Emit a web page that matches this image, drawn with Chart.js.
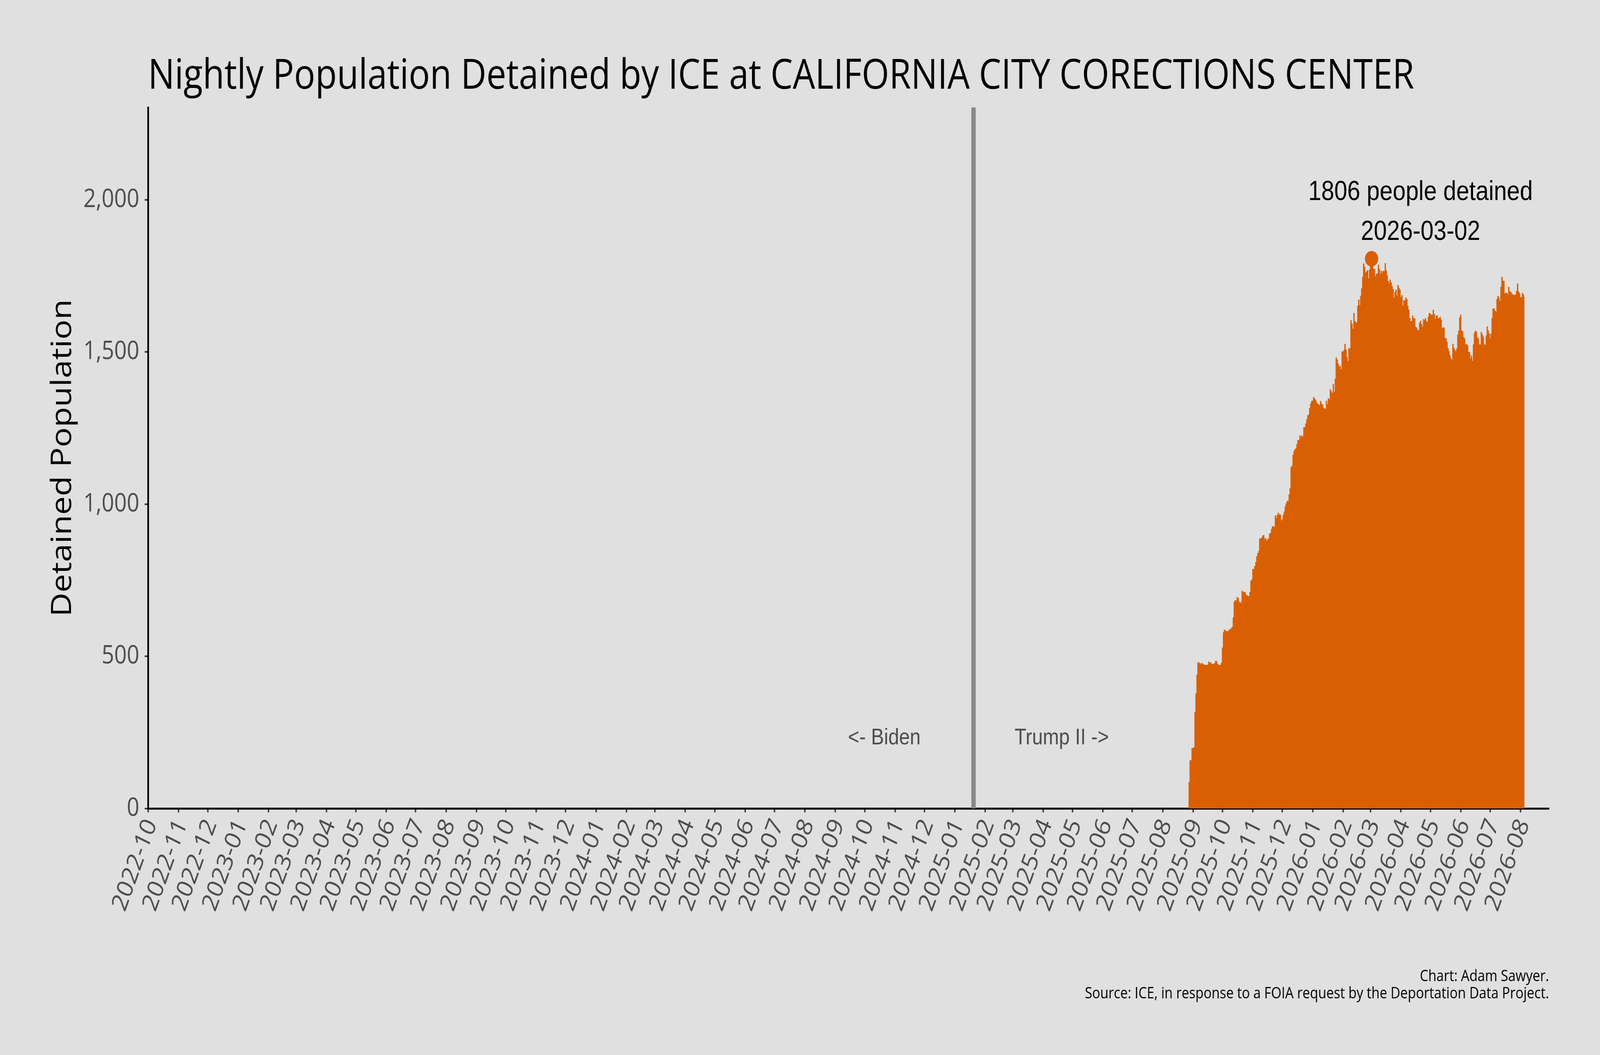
<!DOCTYPE html>
<html>
<head>
<meta charset="utf-8">
<title>Nightly Population Detained by ICE</title>
<script src="https://cdn.jsdelivr.net/npm/chart.js@4.4.1/dist/chart.umd.min.js"></script>
<style>
  html, body { margin: 0; padding: 0; background: #e0e0e0; overflow: hidden; }
  #chart { display: block; }
</style>
</head>
<body>
<canvas id="chart" width="4800" height="2700" style="width: 100vw; height: 100vh;"></canvas>
<script>
const titleText = 'Nightly Population Detained by ICE at CALIFORNIA CITY CORECTIONS CENTER';
const yTitle = 'Detained Population';
const creditLines = [
    'Chart: Adam Sawyer.',
    'Source: ICE, in response to a FOIA request by the Deportation Data Project.'
];

// x axis runs from 2022-10-01 to the end of Aug 2026
const axisStart = '2022-10-01';
const axisEnd = '2026-08-30';
const monthLabels = [
    '2022-10', '2022-11', '2022-12',
    '2023-01', '2023-02', '2023-03', '2023-04', '2023-05', '2023-06',
    '2023-07', '2023-08', '2023-09', '2023-10', '2023-11', '2023-12',
    '2024-01', '2024-02', '2024-03', '2024-04', '2024-05', '2024-06',
    '2024-07', '2024-08', '2024-09', '2024-10', '2024-11', '2024-12',
    '2025-01', '2025-02', '2025-03', '2025-04', '2025-05', '2025-06',
    '2025-07', '2025-08', '2025-09', '2025-10', '2025-11', '2025-12',
    '2026-01', '2026-02', '2026-03', '2026-04', '2026-05', '2026-06',
    '2026-07', '2026-08'
];
const yTicks = [0, 500, 1000, 1500, 2000];
const yMax = 2303;

// one value per night, starting at startDate
const startDate = '2025-08-27';
const population = [
    5, 86, 158, 158, 198, 198, 201, 316, 377, 439,
    479, 479, 476, 476, 477, 474, 472, 471, 471, 471,
    471, 482, 479, 479, 474, 475, 474, 477, 484, 483,
    475, 471, 471, 471, 479, 528, 578, 587, 584, 582,
    582, 582, 588, 588, 592, 596, 627, 679, 684, 683,
    694, 691, 678, 678, 674, 715, 710, 711, 711, 702,
    700, 697, 697, 711, 748, 752, 786, 786, 796, 809,
    828, 838, 845, 886, 886, 890, 895, 898, 884, 888,
    879, 884, 886, 902, 905, 918, 927, 925, 925, 962,
    954, 964, 971, 965, 965, 945, 949, 964, 975, 992,
    1002, 1010, 1010, 1031, 1052, 1121, 1125, 1162, 1174, 1180,
    1182, 1197, 1210, 1210, 1225, 1219, 1225, 1221, 1252, 1252,
    1264, 1278, 1291, 1294, 1315, 1330, 1338, 1340, 1351, 1345,
    1343, 1334, 1329, 1327, 1325, 1338, 1330, 1327, 1316, 1313,
    1313, 1339, 1328, 1347, 1343,
    1377, 1370, 1364, 1394, 1368, 1411, 1481, 1474, 1461, 1451,
    1454, 1442, 1501, 1501, 1506, 1526, 1507, 1483, 1469, 1512,
    1511, 1604, 1592, 1575, 1627, 1601, 1597, 1596, 1651, 1671,
    1653, 1684, 1708, 1746, 1790, 1779, 1760, 1764, 1768, 1740,
    1770, 1785, 1806, 1790, 1772, 1772, 1747, 1757, 1756, 1786,
    1772, 1756, 1766, 1760, 1766, 1765, 1791, 1768, 1751, 1732,
    1725, 1737, 1728, 1716, 1706, 1678, 1696, 1704, 1684, 1719,
    1710, 1704, 1680, 1686, 1651, 1669, 1669, 1678, 1673, 1651,
    1638, 1611, 1600, 1601, 1619, 1610, 1610, 1582, 1579, 1572,
    1570, 1595, 1602, 1591, 1582, 1607, 1605, 1610, 1601, 1597,
    1616, 1627, 1625, 1621, 1622, 1638, 1624, 1608, 1619, 1619,
    1610, 1610, 1615, 1606, 1576, 1580, 1579, 1544, 1545, 1532,
    1512, 1502, 1488, 1478, 1474, 1526, 1513, 1506, 1501, 1511,
    1556, 1569, 1613, 1622, 1570, 1567, 1548, 1543, 1524, 1525,
    1521, 1500, 1498, 1479, 1488, 1470, 1524, 1561, 1569, 1566,
    1548, 1543, 1524, 1524, 1565, 1556, 1550, 1525, 1522, 1553,
    1583, 1570, 1560, 1544, 1560, 1611, 1642, 1642, 1635, 1629,
    1673, 1683, 1678, 1667, 1714, 1746, 1733, 1733, 1692, 1693,
    1694, 1687, 1713, 1698, 1697, 1692, 1688, 1686, 1687, 1688,
    1700, 1724, 1698, 1692, 1679, 1679, 1693, 1687, 1679
];

const peakDate = '2026-03-02';
const peakValue = 1806;
const inaugurationDate = '2025-01-20';
const eraLabels = ['<- Biden', 'Trump II ->'];

const ORANGE = '#d95f02';
const SANS = "'Open Sans', sans-serif";
const ARIAL = "'Liberation Sans', Arial, sans-serif";

// days since axisStart
function dayNumber(s) {
    const p = s.split('-').map(Number);
    const a = axisStart.split('-').map(Number);
    return Math.round((Date.UTC(p[0], p[1] - 1, p[2]) - Date.UTC(a[0], a[1] - 1, a[2])) / 86400000);
}

const firstDay = dayNumber(startDate);
const nightly = population.map((v, i) => ({ x: firstDay + i, y: v }));
const peakDay = dayNumber(peakDate);
const inaugDay = dayNumber(inaugurationDate);

const labelByDay = {};
monthLabels.forEach(m => { labelByDay[dayNumber(m + '-01')] = m; });

const decorations = {
    id: 'decorations',
    beforeDatasetsDraw(chart) {
        const ctx = chart.ctx;
        const x = chart.scales.x.getPixelForValue(inaugDay);
        ctx.save();
        ctx.strokeStyle = '#888888';
        ctx.lineWidth = 13;
        ctx.beginPath();
        ctx.moveTo(x, chart.chartArea.top);
        ctx.lineTo(x, chart.chartArea.bottom);
        ctx.stroke();

        // era labels either side of the inauguration line
        const ly = chart.scales.y.getPixelForValue(210);
        ctx.fillStyle = '#4d4d4d';
        ctx.font = '58px ' + ARIAL;
        ctx.textAlign = 'center';
        ctx.textBaseline = 'alphabetic';
        ctx.fillText(eraLabels[0], chart.scales.x.getPixelForValue(inaugDay - 91), ly);
        ctx.fillText(eraLabels[1], chart.scales.x.getPixelForValue(inaugDay + 90), ly);
        ctx.restore();
    },
    afterDraw(chart) {
        const ctx = chart.ctx;
        const area = chart.chartArea;
        ctx.save();

        // peak annotation
        const px = chart.scales.x.getPixelForValue(peakDay);
        const py = chart.scales.y.getPixelForValue(peakValue);
        ctx.fillStyle = '#000000';
        ctx.font = '70px ' + ARIAL;
        ctx.textAlign = 'center';
        ctx.textBaseline = 'alphabetic';
        ctx.fillText(peakValue + ' people detained', px + 147, py - 150);
        ctx.fillText(peakDate, px + 147, py - 48);

        // title
        ctx.textAlign = 'left';
        ctx.font = '106px ' + SANS;
        ctx.fillText(titleText, area.left, 227);

        // credits
        ctx.textAlign = 'right';
        ctx.font = '40px ' + SANS;
        ctx.fillText(creditLines[0], area.right, 2511);
        ctx.fillText(creditLines[1], area.right, 2555);
        ctx.restore();
    }
};

Chart.defaults.font.family = SANS;

new Chart(document.getElementById('chart'), {
    type: 'line',
    data: {
        datasets: [
            {
                label: 'Detained Population',
                data: nightly,
                stepped: 'middle',
                fill: 'origin',
                backgroundColor: ORANGE,
                borderColor: ORANGE,
                borderWidth: 1,
                pointRadius: 0
            },
            {
                label: 'Peak',
                data: [{ x: peakDay, y: peakValue }],
                showLine: false,
                pointRadius: 20,
                pointHoverRadius: 20,
                pointBackgroundColor: ORANGE,
                pointBorderWidth: 0,
                clip: false
            }
        ]
    },
    options: {
        responsive: false,
        animation: false,
        devicePixelRatio: 1,
        layout: {
            padding: { top: 275, right: 153, bottom: 0, left: 0 }
        },
        scales: {
            x: {
                type: 'linear',
                min: 0,
                max: dayNumber(axisEnd),
                afterFit: (s) => { s.height = 631; },
                afterBuildTicks: (s) => {
                    s.ticks = monthLabels.map(m => ({ value: dayNumber(m + '-01') }));
                },
                ticks: {
                    autoSkip: false,
                    minRotation: 67,
                    maxRotation: 67,
                    color: '#4d4d4d',
                    font: { size: 66 },
                    padding: 6,
                    labelOffset: 10,
                    callback: (v) => labelByDay[v]
                },
                grid: {
                    drawOnChartArea: false,
                    tickLength: 10,
                    tickWidth: 4,
                    tickColor: '#333333'
                },
                border: { color: '#000000', width: 5 }
            },
            y: {
                min: 0,
                max: yMax,
                afterFit: (s) => { s.width = 444; },
                afterBuildTicks: (s) => {
                    s.ticks = yTicks.map(v => ({ value: v }));
                },
                ticks: {
                    color: '#4d4d4d',
                    font: { size: 66 },
                    padding: 16,
                    callback: (v) => v.toLocaleString('en-US')
                },
                grid: {
                    drawOnChartArea: false,
                    tickLength: 10,
                    tickWidth: 4,
                    tickColor: '#333333'
                },
                border: { color: '#000000', width: 5 },
                title: {
                    display: true,
                    text: yTitle,
                    color: '#000000',
                    font: { size: 85 },
                    padding: { top: 138 }
                }
            }
        },
        plugins: {
            legend: { display: false },
            title: { display: false },
            tooltip: { enabled: false }
        }
    },
    plugins: [decorations]
});
</script>
</body>
</html>
